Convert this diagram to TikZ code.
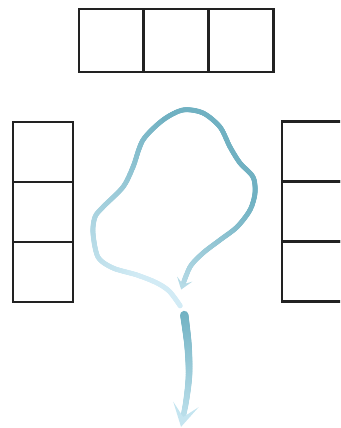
\documentclass[tikz,border=0pt]{standalone}
\usepackage{tikz}
\usetikzlibrary{positioning,decorations.markings}
\definecolor{boxline}{RGB}{34,34,34}
\definecolor{flowdark}{RGB}{112,177,194}
\definecolor{flowlight}{RGB}{218,240,249}
\definecolor{flowpale}{RGB}{208,236,246}
% one dab of a fading stroke: #1 darkness (0..100), #2 radius in pt, #3 pale end colour
\newcommand{\gradstroke}[3]{%
  \pgfmathsetmacro\gf{\pgfkeysvalueof{/pgf/decoration/mark info/distance from start}/\pgfdecoratedpathlength}%
  \pgfmathsetmacro\gd{#1}\pgfmathsetmacro\gr{#2}%
  \fill[flowdark!\gd!#3] (0,0) circle (\gr pt);}
\tikzset{
  tcell/.style={draw=boxline, line width=2.8pt, outer sep=0pt, inner sep=0pt,
    minimum width=64.7pt, minimum height=63pt},
  scell/.style={tcell, minimum width=60pt, minimum height=60pt},
  loopflow/.style={postaction={decorate, decoration={markings,
      mark=between positions 5pt and -5pt step 0.7pt with
        {\gradstroke{(\gf<0.5) ? min(100,max(8,230*(\gf-0.08))) : ((\gf<0.78) ? 100 : 100-300*(\gf-0.78))}{2.5}{flowlight}},
      mark=at position 0.001 with {\fill[flowdark!14!flowlight] (0,0) -- (11pt,8pt) -- (5.5pt,0) -- (11pt,-8pt) -- cycle;},
      mark=at position 0.999 with {\fill[flowdark!34!flowlight] (0,0) -- (-11pt,8pt) -- (-5.5pt,0) -- (-11pt,-8pt) -- cycle;}}}},
  downflow/.style={postaction={decorate, decoration={markings,
      mark=between positions 2pt and -9pt step 0.7pt with
        {\gradstroke{100-85*\gf}{4.2-1.7*\gf}{flowpale}},
      mark=at position 0.001 with {\fill[flowdark] (0,-4.2pt) rectangle (2.5pt,4.2pt);},
      mark=at position 0.999 with {\fill[flowdark!12!flowpale] (0,0) -- (-23pt,13pt) -- (-10pt,0) -- (-23pt,-13pt) -- cycle;}}}},
}
\begin{document}
\begin{tikzpicture}[x=1pt, y=-1pt]
\path[use as bounding box, clip] (0,0) rectangle (340,428);
% top row
\node[tcell] (t1) at (111.35,40.5) {};
\node[tcell, right=0pt of t1] (t2) {};
\node[tcell, right=0pt of t2] (t3) {};
% left column
\node[scell] (l1) at (43,152) {};
\node[scell, below=0pt of l1] (l2) {};
\node[scell, below=0pt of l2] (l3) {};
% right column
\node[scell] (r1) at (312,151.5) {};
\node[scell, below=0pt of r1] (r2) {};
\node[scell, below=0pt of r2] (r3) {};
% loop
\path[loopflow] plot[smooth] coordinates {(183,310) (170,292) (157,283) (137,275)
  (113,268) (98,257) (93,233) (95,217) (103,207) (123,187) (133,167) (143,140)
  (163,120) (183,110) (203,113) (220,127) (230,147) (240,163) (253,177) (255,193)
  (250,210) (237,227) (220,240) (203,253) (190,267) (181,290)};
% down
\path[downflow] plot[smooth] coordinates {(184,313) (188,345) (189,375) (186,402) (181,427)};
\end{tikzpicture}
\end{document}
